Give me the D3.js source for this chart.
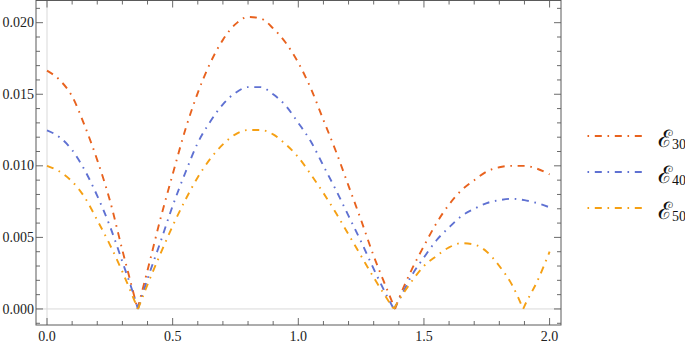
<!DOCTYPE html>
<html><head><meta charset="utf-8">
<script src="https://cdn.jsdelivr.net/npm/d3@7"></script>
<style>html,body{margin:0;padding:0;background:#fff;overflow:hidden}
.tl{font-family:"Liberation Serif","Times New Roman",serif;font-size:14px;fill:#222}
.lg{font-family:"Liberation Serif",serif;fill:#111}
</style>
</head><body>
<svg id="chart" width="685" height="343"></svg>
<script>
// ---- data ----
const xValues = [0,0.05,0.1,0.15,0.2,0.25,0.3,0.35,0.4,0.45,0.5,0.55,0.6,0.65,0.7,0.75,0.8,0.85,0.9,0.95,1.0,1.05,1.1,1.15,1.2,1.25,1.3,1.35,1.4,1.45,1.5,1.55,1.6,1.65,1.7,1.75,1.8,1.85,1.9,1.95,2.0];
const eps30 = [0.01665,0.0160,0.01485,0.0128,0.0104,0.0076,0.0041,0.0007,0.0027,0.0062,0.0094,0.0125,0.0151,0.0172,0.0188,0.0199,0.0204,0.0203,0.0196,0.0186,0.0172,0.0154,0.0132,0.0110,0.0086,0.0062,0.0037,0.0015,0.0007,0.0027,0.0044,0.0060,0.0073,0.0083,0.0090,0.0096,0.0099,0.0100,0.0100,0.0098,0.0094];
const eps40 = [0.01248,0.0120,0.0111,0.0097,0.0079,0.0058,0.0033,0.0007,0.0021,0.0046,0.0072,0.0095,0.0116,0.0131,0.0143,0.0151,0.0155,0.0155,0.0150,0.0142,0.0130,0.0117,0.0100,0.0083,0.0065,0.0047,0.0028,0.0010,0.0006,0.0023,0.0036,0.0048,0.0057,0.0065,0.0070,0.0074,0.0076,0.0077,0.0076,0.0074,0.0071];
const eps50 = [0.0100,0.0096,0.0089,0.0078,0.0062,0.0045,0.0026,0.0005,0.0017,0.0038,0.0058,0.0076,0.0092,0.0105,0.0115,0.0122,0.0125,0.0125,0.0122,0.0115,0.0106,0.0094,0.0081,0.0067,0.0052,0.0037,0.0022,0.0008,0.0006,0.0019,0.0030,0.0037,0.0043,0.0046,0.0045,0.0040,0.0030,0.0017,0.0002,0.0019,0.0040];
const zeros30 = [0.36, 1.385];
const zeros40 = [0.362, 1.38];
const zeros50 = [0.362, 1.38, 1.895];
const seriesNames = ["30","40","50"];
const seriesColors = ["#E8621E","#5F71D2","#F5A014"];
const xTickLabels = ["0.0","0.5","1.0","1.5","2.0"];
const yTickLabels = ["0.000","0.005","0.010","0.015","0.020"];

// ---- layout ----
const svg = d3.select("#chart");
const L = 36, R = 561, T = 0.5, B = 325;
const x = d3.scaleLinear().domain([-0.0438, 2.0454]).range([L, R]);
const y = d3.scaleLinear().domain([-0.00112, 0.02155]).range([B, T]);

const clip = svg.append("defs").append("clipPath").attr("id","pc");
clip.append("rect").attr("x",L).attr("y",T).attr("width",R-L).attr("height",B-T);

// light axes at 0
svg.append("line").attr("x1",x(0)).attr("x2",x(0)).attr("y1",T).attr("y2",B)
  .attr("stroke","#d9d9d9").attr("stroke-width",1);
svg.append("line").attr("x1",L).attr("x2",R).attr("y1",y(0)).attr("y2",y(0))
  .attr("stroke","#d9d9d9").attr("stroke-width",1);

// series
const allY = [eps30, eps40, eps50];
const allZeros = [zeros30, zeros40, zeros50];
const lineGen = d3.line().x(d=>x(d[0])).y(d=>y(d[1])).curve(d3.curveMonotoneX);
const dash = "7 5.7 1.6 5.7";
allY.forEach((vals, i) => {
  let pts = xValues.map((xv, j) => [xv, vals[j]]);
  allZeros[i].forEach(z => pts.push([z, 0]));
  pts.sort((a,b)=>a[0]-b[0]);
  const segs = []; let cur = [];
  pts.forEach(p => {
    cur.push(p);
    if (p[1] === 0) { if (cur.length > 1) segs.push(cur); cur = [p]; }
  });
  if (cur.length > 1) segs.push(cur);
  const d = segs.map(s => lineGen(s)).join("");
  svg.append("path").attr("d", d).attr("fill","none")
    .attr("stroke", seriesColors[i]).attr("stroke-width",1.9)
    .attr("stroke-dasharray", dash).attr("clip-path","url(#pc)");
});

// frame
const frameColor = "#5a5a5a";
svg.append("rect").attr("x",L).attr("y",T).attr("width",R-L).attr("height",B-T)
  .attr("fill","none").attr("stroke",frameColor).attr("stroke-width",1);

// ticks
const gT = svg.append("g").attr("stroke",frameColor).attr("stroke-width",0.9);
const xMinor = d3.range(0, 21).map(k => k/10);
xMinor.forEach(v => {
  const major = Math.abs(v*2 - Math.round(v*2)) < 1e-9;
  const len = major ? 7 : 4;
  gT.append("line").attr("x1",x(v)).attr("x2",x(v)).attr("y1",B).attr("y2",B-len);
  gT.append("line").attr("x1",x(v)).attr("x2",x(v)).attr("y1",T).attr("y2",T+len);
});
const yMinor = d3.range(-1, 22).map(k => k/1000);
yMinor.forEach(v => {
  const major = (Math.round(v*1000) % 5) === 0;
  const len = major ? 7 : 4;
  gT.append("line").attr("x1",L).attr("x2",L+len).attr("y1",y(v)).attr("y2",y(v));
  gT.append("line").attr("x1",R).attr("x2",R-len).attr("y1",y(v)).attr("y2",y(v));
});

// tick labels
xTickLabels.forEach(t => {
  svg.append("text").attr("class","tl").attr("x",x(+t)).attr("y",340.5).attr("text-anchor","middle").text(t);
});
yTickLabels.forEach(t => {
  svg.append("text").attr("class","tl").attr("x",34).attr("y",y(+t)).attr("dy","0.33em").attr("text-anchor","end").text(t);
});

// legend
const legY = [136, 172, 208];
seriesNames.forEach((n, i) => {
  svg.append("line").attr("x1",587.5).attr("x2",643).attr("y1",legY[i]).attr("y2",legY[i])
    .attr("stroke",seriesColors[i]).attr("stroke-width",1.9)
    .attr("stroke-dasharray",dash).attr("stroke-dashoffset",12.7);
  const t = svg.append("text").attr("class","lg").attr("x",658).attr("y",legY[i]+11);
  t.append("tspan").attr("font-size",24).text("\u2130");
  t.append("tspan").attr("font-size",14).attr("dy",2).text(n);
});
</script>
</body></html>
